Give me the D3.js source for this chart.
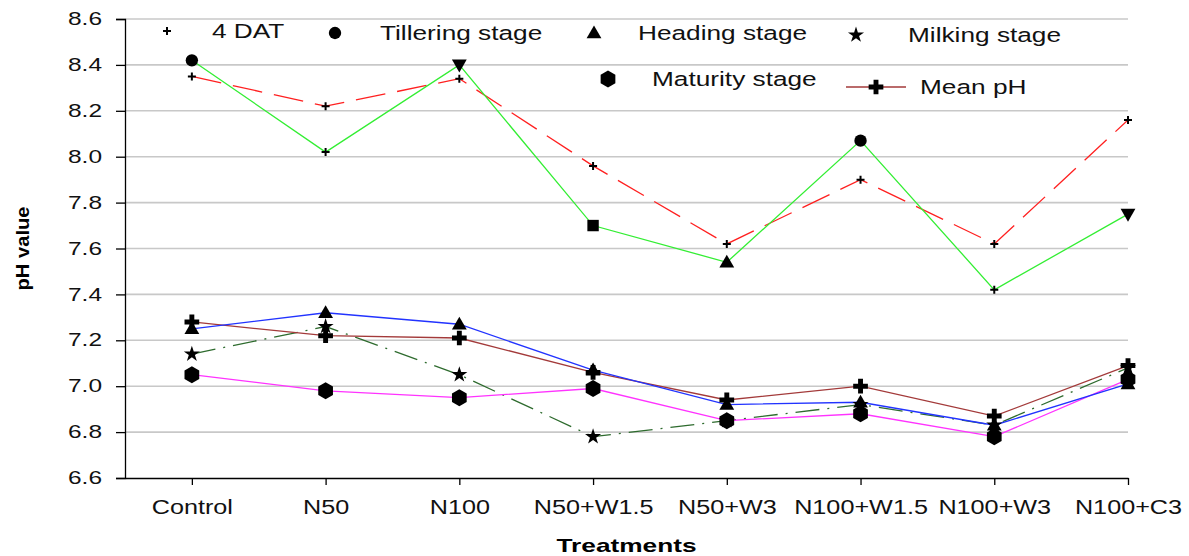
<!DOCTYPE html>
<html><head><meta charset="utf-8">
<script src="https://cdn.jsdelivr.net/npm/d3@7"></script>
<style>body{margin:0;background:#fff}svg{display:block}</style>
</head><body>
<svg id="c" width="1189" height="556"></svg>
<script>
const categories = ["Control","N50","N100","N50+W1.5","N50+W3","N100+W1.5","N100+W3","N100+C3"];
const dat4      = [8.35, 8.22, 8.34, 7.96, 7.62, 7.90, 7.62, 8.16];
const tillering = [8.42, 8.02, 8.40, 7.70, 7.54, 8.07, 7.42, 7.75];
const heading   = [7.25, 7.32, 7.27, 7.07, 6.92, 6.93, 6.83, 7.01];
const milking   = [7.14, 7.26, 7.05, 6.78, 6.85, 6.92, 6.83, 7.08];
const maturity  = [7.05, 6.98, 6.95, 6.99, 6.85, 6.88, 6.78, 7.03];
const meanPH    = [7.28, 7.22, 7.21, 7.06, 6.94, 7.00, 6.87, 7.09];
const yTicks    = [6.6, 6.8, 7.0, 7.2, 7.4, 7.6, 7.8, 8.0, 8.2, 8.4, 8.6];
const tilleringMarkers = ["circle","plus","down","square","up","circle","plus","down"];

const svg = d3.select("#c");
const L = 125, R = 1128, T = 19, B = 478;
const x = d3.scaleLinear().domain([0.5, 8]).range([L, R]);
const y = d3.scaleLinear().domain([6.6, 8.6]).range([B, T]);
const font = "'Liberation Sans', Arial, sans-serif";

// gridlines
svg.append("g").selectAll("line").data(yTicks.slice(1)).join("line")
  .attr("x1", L).attr("x2", R).attr("y1", d => y(d)).attr("y2", d => y(d))
  .attr("stroke", "#c8c8c8").attr("stroke-width", 1.6);

// axes
const ySX = 1.4;
const yAxis = svg.append("g").attr("transform", `translate(${L},0)`)
  .call(d3.axisLeft(y).tickValues(yTicks).tickFormat(d3.format(".1f")).tickSize(9).tickPadding(14));
yAxis.select(".domain").attr("stroke", "#000").attr("stroke-width", 1.3);
yAxis.selectAll(".tick line").attr("stroke-width", 1.3);
yAxis.selectAll("text").attr("font-family", font).attr("font-size", 17.5).attr("fill", "#111")
  .attr("x", -23 / ySX).attr("transform", `scale(${ySX},1)`);

const xSX = 1.2;
const xAxis = svg.append("g").attr("transform", `translate(0,${B})`)
  .call(d3.axisBottom(x).tickValues(d3.range(1, 9)).tickFormat(i => categories[i - 1]).tickSize(7).tickSizeOuter(0).tickPadding(14));
xAxis.select(".domain").attr("stroke", "#000").attr("stroke-width", 1.3);
xAxis.selectAll(".tick line").attr("stroke-width", 1.3);
xAxis.selectAll("text").attr("font-family", font).attr("font-size", 21).attr("fill", "#111")
  .attr("transform", `scale(${xSX},1)`);

svg.append("text").attr("x", (L + R) / 2).attr("y", 552).attr("text-anchor", "middle")
  .attr("font-family", font).attr("font-weight", "bold").attr("font-size", 19)
  .attr("textLength", 140).attr("lengthAdjust", "spacingAndGlyphs").text("Treatments");
svg.append("text").attr("transform", `translate(29,${(T + B) / 2}) rotate(-90)`).attr("text-anchor", "middle")
  .attr("font-family", font).attr("font-weight", "bold").attr("font-size", 18)
  .attr("textLength", 84).attr("lengthAdjust", "spacingAndGlyphs").text("pH value");

// marker drawing
function hexPath(r) {
  const pts = d3.range(6).map(k => { const a = Math.PI / 6 + k * Math.PI / 3; return [r * Math.cos(a), r * Math.sin(a)]; });
  return "M" + pts.map(p => p.join(",")).join("L") + "Z";
}
function marker(g, type, cx, cy) {
  const t = `translate(${cx},${cy})`;
  if (type === "plus") {
    g.append("path").attr("d", "M-4,0H4M0,-4V4").attr("transform", t).attr("stroke", "#000").attr("stroke-width", 2);
  } else if (type === "circle") {
    g.append("path").attr("d", d3.symbol(d3.symbolCircle, 120)()).attr("transform", t).attr("fill", "#000");
  } else if (type === "up") {
    g.append("path").attr("d", d3.symbol(d3.symbolTriangle, 95)()).attr("transform", t + " translate(0,1)").attr("fill", "#000");
  } else if (type === "down") {
    g.append("path").attr("d", d3.symbol(d3.symbolTriangle, 95)()).attr("transform", t + " rotate(180) translate(0,1)").attr("fill", "#000");
  } else if (type === "square") {
    g.append("path").attr("d", d3.symbol(d3.symbolSquare, 130)()).attr("transform", t).attr("fill", "#000");
  } else if (type === "star") {
    g.append("path").attr("d", d3.symbol(d3.symbolStar, 80)()).attr("transform", t).attr("fill", "#000");
  } else if (type === "hex") {
    g.append("path").attr("d", hexPath(8.5)).attr("transform", t).attr("fill", "#000");
  } else if (type === "cross") {
    g.append("path").attr("d", d3.symbol(d3.symbolCross, 120)()).attr("transform", t).attr("fill", "#000");
  }
}

const series = [
  {vals: dat4, color: "#ff2020", dash: "30,12", mk: () => "plus"},
  {vals: tillering, color: "#33ee33", dash: null, mk: i => tilleringMarkers[i]},
  {vals: milking, color: "#2e6b2e", dash: "24,8,2,8", mk: () => "star"},
  {vals: maturity, color: "#ff33ff", dash: null, mk: () => "hex"},
  {vals: meanPH, color: "#a33a3a", dash: null, mk: () => "cross"},
  {vals: heading, color: "#2233ff", dash: null, mk: () => "up"}
];
const line = d3.line().x((d, i) => x(i + 1)).y(d => y(d));
series.forEach(s => {
  svg.append("path").attr("d", line(s.vals)).attr("fill", "none").attr("stroke", s.color)
    .attr("stroke-width", 1.3).attr("stroke-dasharray", s.dash);
});
const mg = svg.append("g");
series.forEach(s => s.vals.forEach((v, i) => marker(mg, s.mk(i), x(i + 1), y(v))));

// legend
const lg = svg.append("g");
const lSX = 1.28;
const legendItems = [
  {m: "plus", mx: 167, my: 31, tx: 212, ty: 38, label: "4 DAT"},
  {m: "circle", mx: 335, my: 33, tx: 380, ty: 40, label: "Tillering stage"},
  {m: "up", mx: 594, my: 33, tx: 638, ty: 40, label: "Heading stage"},
  {m: "star", mx: 856, my: 35, tx: 908, ty: 42, label: "Milking stage"},
  {m: "hex", mx: 608, my: 79, tx: 652, ty: 86, label: "Maturity stage"},
  {m: "cross", mx: 876, my: 87, tx: 920, ty: 94, label: "Mean pH", line: true}
];
legendItems.forEach(d => {
  if (d.line) lg.append("line").attr("x1", d.mx - 30).attr("x2", d.mx + 30).attr("y1", d.my).attr("y2", d.my)
    .attr("stroke", "#a33a3a").attr("stroke-width", 1.3);
  marker(lg, d.m, d.mx, d.my);
  lg.append("text").attr("transform", `translate(${d.tx},${d.ty}) scale(${lSX},1)`)
    .attr("font-family", font).attr("font-size", 20.5).attr("fill", "#111").text(d.label);
});
</script>
</body></html>
